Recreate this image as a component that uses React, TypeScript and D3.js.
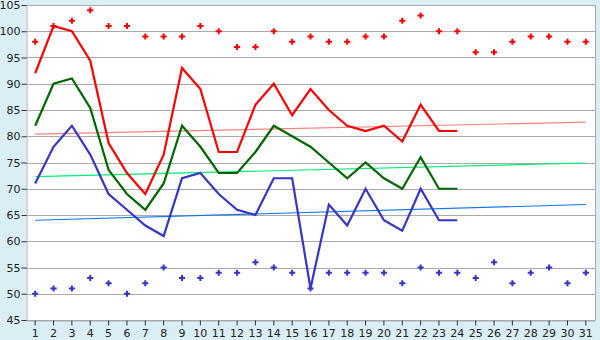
import React, { useEffect, useRef } from "react";
import * as d3 from "d3";

// days of the month
const days: number[] = d3.range(1, 32);

// top markers (red)
const redMarks: number[] = [98, 101, 102, 104, 101, 101, 99, 99, 99, 101, 100, 97, 97, 100, 98, 99, 98, 98, 99, 99, 102, 103, 100, 100, 96, 96, 98, 99, 99, 98, 98];
// bottom markers (blue)
const blueMarks: number[] = [50, 51, 51, 53, 52, 50, 52, 55, 53, 53, 54, 54, 56, 55, 54, 51, 54, 54, 54, 54, 52, 55, 54, 54, 53, 56, 52, 54, 55, 52, 54];

// lines, days 1..24
const redLine: number[] = [92, 101, 100, 94.4, 78.7, 73, 69, 76.5, 93, 89, 77, 77, 86, 90, 84, 89, 85, 82, 81, 82, 79, 86, 81, 81];
const greenLine: number[] = [82, 90, 91, 85.4, 73.6, 69, 66, 71, 82, 78, 73, 73, 77, 82, 80, 78, 75, 72, 75, 72, 70, 76, 70, 70];
const blueLine: number[] = [71, 78, 82, 76.5, 69, 66, 63, 61, 72, 73, 69, 66, 65, 72, 72, 51, 67, 63, 70, 64, 62, 70, 64, 64];

// trend lines: value at day 1 and day 31
const redTrend: number[] = [80.4, 82.7];
const greenTrend: number[] = [72.3, 74.9];
const blueTrend: number[] = [64.0, 67.0];

const yTicks: number[] = d3.range(45, 106, 5);

const App = () => {
  const chartRef = useRef<SVGSVGElement | null>(null);

  useEffect(() => {
    const width = 600;
    const height = 340;
    const margin = { top: 5, right: 5, bottom: 20, left: 26 };

    const svg = d3.select(chartRef.current);
    svg.selectAll("*").remove();

    // background
    svg.append("rect").attr("width", width).attr("height", height).attr("fill", "#daeef5");
    svg
      .append("rect")
      .attr("x", margin.left)
      .attr("y", margin.top)
      .attr("width", width - margin.left - margin.right)
      .attr("height", height - margin.top - margin.bottom)
      .attr("fill", "#ffffff");

    const xScale = d3
      .scaleBand<number>()
      .domain(days)
      .range([margin.left, width - margin.right])
      .padding(0);
    const cx = (d: number) => (xScale(d) as number) + xScale.bandwidth() / 2;

    const yScale = d3
      .scaleLinear()
      .domain([45, 105])
      .range([height - margin.bottom, margin.top]);

    // grid lines
    svg
      .append("g")
      .selectAll("line")
      .data(yTicks)
      .join("line")
      .attr("x1", margin.left)
      .attr("x2", width - margin.right)
      .attr("y1", (d) => Math.round(yScale(d)) + 0.5)
      .attr("y2", (d) => Math.round(yScale(d)) + 0.5)
      .attr("stroke", "#aaaaaa")
      .attr("stroke-width", 1);

    // plot border (right side)
    svg
      .append("line")
      .attr("x1", width - margin.right + 0.5)
      .attr("x2", width - margin.right + 0.5)
      .attr("y1", margin.top)
      .attr("y2", height - margin.bottom)
      .attr("stroke", "#aaaaaa");

    // axes
    const xAxis = svg
      .append("g")
      .attr("transform", `translate(0,${Math.round(yScale(45)) + 0.5})`)
      .call(d3.axisBottom(xScale).tickSize(5).tickSizeOuter(0));
    xAxis.select(".domain").attr("stroke", "#aaaaaa");
    xAxis.selectAll(".tick line").attr("stroke", "#333333");
    xAxis
      .selectAll(".tick text")
      .attr("font-family", "DejaVu Sans, Verdana, sans-serif")
      .attr("font-size", 11)
      .attr("fill", "#222")
      .attr("y", 9)
      .attr("dy", "0.71em");

    const yAxis = svg
      .append("g")
      .attr("transform", `translate(${margin.left + 0.5},0)`)
      .call(d3.axisLeft(yScale).tickValues(yTicks).tickSize(5).tickSizeOuter(0));
    yAxis.select(".domain").attr("stroke", "#aaaaaa");
    yAxis.selectAll(".tick line").attr("stroke", "#333333");
    yAxis
      .selectAll(".tick text")
      .attr("font-family", "DejaVu Sans, Verdana, sans-serif")
      .attr("font-size", 11)
      .attr("fill", "#222")
      .attr("x", -6);

    // trend lines
    const trends: [number[], string][] = [
      [redTrend, "#ff8080"],
      [greenTrend, "#00ee77"],
      [blueTrend, "#1177ee"],
    ];
    const trendDays = [days[0], days[days.length - 1]];
    trends.forEach(([vals, color]) => {
      svg
        .append("line")
        .attr("x1", cx(trendDays[0]))
        .attr("x2", cx(trendDays[1]))
        .attr("y1", yScale(vals[0]))
        .attr("y2", yScale(vals[1]))
        .attr("stroke", color)
        .attr("stroke-width", 1.2);
    });

    // series lines
    const line = d3
      .line<number>()
      .x((_, i) => cx(days[i]))
      .y((d) => yScale(d));

    const series: [number[], string][] = [
      [redLine, "#ff0000"],
      [greenLine, "#006600"],
      [blueLine, "#3535c8"],
    ];
    series.forEach(([vals, color]) => {
      svg
        .append("path")
        .datum(vals)
        .attr("fill", "none")
        .attr("stroke", color)
        .attr("stroke-width", 2.2)
        .attr("d", line);
    });

    // markers
    const cross = d3.symbol().type(d3.symbolCross).size(21);
    const marks: [number[], string][] = [
      [redMarks, "#ff0000"],
      [blueMarks, "#3535c8"],
    ];
    marks.forEach(([vals, color]) => {
      svg
        .append("g")
        .selectAll("path")
        .data(vals)
        .join("path")
        .attr("d", cross)
        .attr("transform", (d, i) => `translate(${cx(days[i])},${yScale(d)})`)
        .attr("fill", color);
    });
  }, []);

  return (
    <svg
      ref={chartRef}
      width={600}
      height={340}
      style={{ position: "absolute", left: 0, top: 0, display: "block" }}
    />
  );
};

export default App;
